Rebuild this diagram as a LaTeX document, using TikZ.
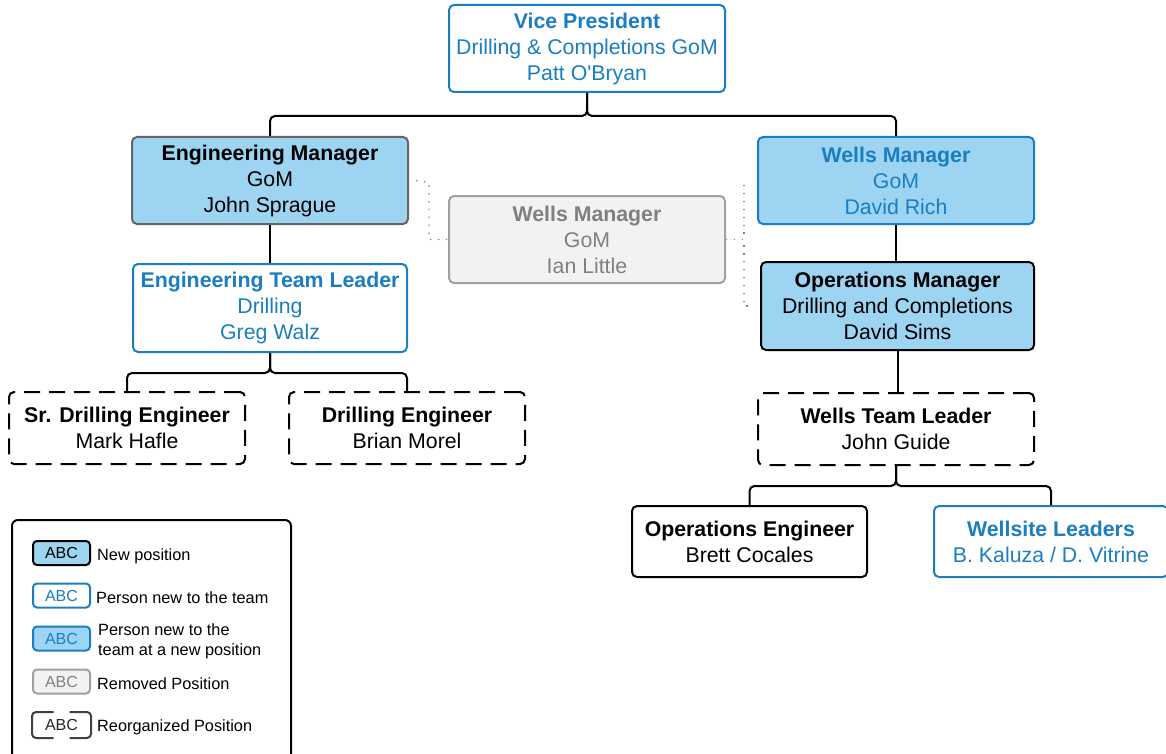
\documentclass[tikz,border=0pt]{standalone}
\usepackage{fontspec}
\setmainfont{Liberation Sans}
% same face without the TeX input mapping, for a straight apostrophe
\font\straightq="Liberation Sans" at 21.3pt
\definecolor{orgblue}{RGB}{27,126,192}
\definecolor{orgfill}{RGB}{157,212,242}
\definecolor{gonefill}{RGB}{242,242,242}
\definecolor{goneline}{RGB}{160,160,160}
\definecolor{gonetext}{RGB}{128,128,128}
\definecolor{mgrline}{RGB}{100,100,100}
\tikzset{
  box/.style={rectangle, rounded corners=5pt, line width=2pt, align=center,
    inner sep=0pt, font=\fontsize{21.3}{26}\selectfont},
  newpos/.style={box, draw=black, fill=orgfill, text=black},
  newperson/.style={box, draw=orgblue, fill=white, text=orgblue},
  newboth/.style={box, draw=orgblue, fill=orgfill, text=orgblue},
  removed/.style={box, draw=goneline, fill=gonefill, text=gonetext},
  reorg/.style={box, draw=black, fill=white, text=black, dash pattern=on 16pt off 9pt},
  plain/.style={box, draw=black, fill=white, text=black},
  conn/.style={draw=black, line width=2pt, rounded corners=5pt},
  dotline/.style={draw=gonetext, line width=1.4pt, dash pattern=on 1.4pt off 6.5pt},
  icon/.style={rectangle, rounded corners=4pt, line width=2pt, inner sep=0pt,
    minimum width=57pt, minimum height=24pt, font=\fontsize{16}{18}\selectfont},
  lbl/.style={anchor=west, align=left, inner sep=0pt, font=\fontsize{16.3}{20}\selectfont}
}
\begin{document}
\begin{tikzpicture}[x=1pt,y=-1pt]
\useasboundingbox (0,0) rectangle (1166,754);

% --- positions ---
\node[newperson, minimum width=276pt, minimum height=87pt] (vp) at (587,48.5)
  {\textbf{Vice President}\\Drilling \& Completions GoM\\Patt O{\straightq '}Bryan};
\node[newpos, draw=mgrline, minimum width=276pt, minimum height=87pt] (em) at (270,180.5)
  {\textbf{Engineering Manager}\\GoM\\John Sprague};
\node[newboth, minimum width=276pt, minimum height=87pt] (wm) at (896,180.5)
  {\textbf{Wells Manager}\\GoM\\David Rich};
\node[removed, minimum width=276pt, minimum height=87pt] (wmx) at (587,239.5)
  {\textbf{Wells Manager}\\GoM\\Ian Little};
\node[newperson, minimum width=274pt, minimum height=88pt] (etl) at (270,308)
  {\textbf{Engineering Team Leader}\\Drilling\\Greg Walz};
\node[newpos, minimum width=273pt, minimum height=88pt] (om) at (897.5,306)
  {\textbf{Operations Manager}\\Drilling and Completions\\David Sims};
\node[reorg, minimum width=236pt, minimum height=72pt] (sde) at (127,428)
  {\textbf{Sr. Drilling Engineer}\\Mark Hafle};
\node[reorg, minimum width=236pt, minimum height=72pt] (de) at (407,428)
  {\textbf{Drilling Engineer}\\Brian Morel};
\node[reorg, minimum width=276pt, minimum height=72pt] (wtl) at (896,429)
  {\textbf{Wells Team Leader}\\John Guide};
\node[plain, minimum width=235pt, minimum height=71pt] (oe) at (749.5,541.5)
  {\textbf{Operations Engineer}\\Brett Cocales};
\node[newperson, minimum width=234pt, minimum height=71pt] (wl) at (1051,541.5)
  {\textbf{Wellsite Leaders}\\B. Kaluza / D. Vitrine};

% --- reporting lines ---
\draw[conn] (vp.south) -- ++(0,23) -| (em.north);
\draw[conn] (vp.south) -- ++(0,23) -| (wm.north);
\draw[conn] (em.south) -- (etl.north);
\draw[conn] (etl.south) -- ++(0,20) -| (sde.north);
\draw[conn] (etl.south) -- ++(0,20) -| (de.north);
\draw[conn] (wm.south) -- (wm.south |- om.north);
\draw[conn] (om.south) -- (om.south |- wtl.north);
\draw[conn] (wtl.south) -- ++(0,20) -| (oe.north);
\draw[conn] (wtl.south) -- ++(0,20) -| (wl.north);

% --- former reporting lines of the removed position ---
\draw[dotline] ([xshift=7pt]em.east) -- ++(13,2) |- (wmx.west);
\draw[dotline] (wmx.east) -- ++(18,0) |- ([xshift=-12pt]wm.west);
\draw[dotline] (wmx.east) -- ++(18,0) |- ([xshift=-12pt]om.west);

% --- legend ---
\draw[line width=2pt, rounded corners=6pt] (12,520) rectangle (291,775);
\node[icon, draw=black, fill=orgfill] (k1) at (61.5,553) {ABC};
\node[icon, draw=orgblue, fill=white, text=orgblue] (k2) at (61.5,595.5) {ABC};
\node[icon, draw=orgblue, fill=orgfill, text=orgblue] (k3) at (61.5,638.5) {ABC};
\node[icon, draw=goneline, fill=gonefill, text=gonetext] (k4) at (61.5,681.5) {ABC};
\node[icon, text=black!85] (k5) at (61.5,725) {ABC};
\draw[line width=2pt, draw=black!75, rounded corners=4pt]
  ([xshift=-8pt]k5.north) -| (k5.south west) -- ([xshift=-8pt]k5.south);
\draw[line width=2pt, draw=black!75, rounded corners=4pt]
  ([xshift=8pt]k5.north) -| (k5.south east) -- ([xshift=8pt]k5.south);
\node[lbl] (t1) at (97,556) {New position};
\node[lbl] (t2) at (96,598) {Person new to the team};
\node[lbl] (t3) at (98,641) {Person new to the\\team at a new position};
\node[lbl] (t4) at (97,684) {Removed Position};
\node[lbl] (t5) at (97,727) {Reorganized Position};
\end{tikzpicture}
\end{document}
